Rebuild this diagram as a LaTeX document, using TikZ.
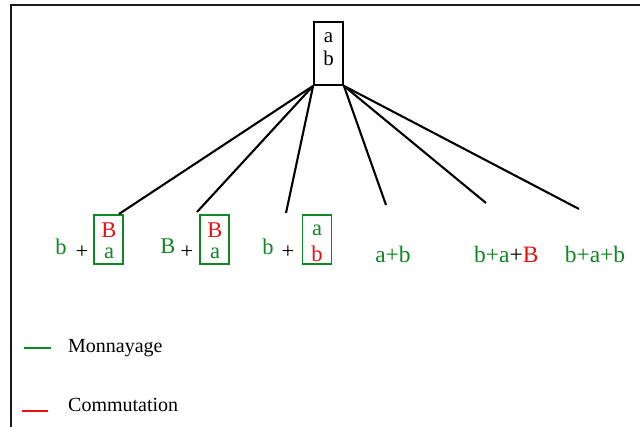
\documentclass[tikz,border=0pt]{standalone}
\usepackage{fontspec}
\setmainfont{Liberation Serif}
\definecolor{mgreen}{RGB}{16,134,36}
\definecolor{mred}{RGB}{232,16,16}
\begin{document}
\begin{tikzpicture}[x=1pt,y=-1pt,
  conn/.style={line width=2.1pt,black},
  gbox/.style={draw=mgreen,line width=1.5pt,minimum width=29pt,minimum height=49pt,inner sep=0pt},
  txt/.style={inner sep=0pt,anchor=base,font=\fontsize{22.5}{26}\selectfont},
  rtxt/.style={inner sep=0pt,anchor=base,font=\fontsize{23.5}{27}\selectfont},
  leg/.style={inner sep=0pt,anchor=base west,font=\fontsize{20}{24}\selectfont},
  frame/.style={line width=2pt,black!90}]
\useasboundingbox (0,0) rectangle (640,427);
% frame
\draw[frame] (640,5) -- (11,5) -- (11,427);
% root
\node[draw,line width=1.8pt,minimum width=29pt,minimum height=63pt,inner sep=0pt] (root) at (328.5,53.5) {};
\node[txt,font=\fontsize{21}{24}\selectfont] (ra) at (328.5,43) {a};
\node[txt,font=\fontsize{21}{24}\selectfont] (rb) at (328.5,66) {b};
% green boxes
\node[gbox] (g1) at (108.5,239.5) {};
\node[gbox] (g2) at (214.5,239.5) {};
\node[gbox] (g3) at (317,239.5) {};
% box contents
\node[txt,text=mred] (g1B) at (109,237.5) {B};
\node[txt,text=mgreen] (g1a) at (109,258.5) {a};
\node[txt,text=mred] (g2B) at (215,237.5) {B};
\node[txt,text=mgreen] (g2a) at (215,258.5) {a};
\node[txt,text=mgreen] (g3a) at (317,236) {a};
\node[txt,text=mred] (g3b) at (317,262) {b};
% outside texts
\node[txt,text=mgreen] (t1b) at (61,255) {b};
\node[txt] (t1p) at (82,259) {+};
\node[txt,text=mgreen] (t2B) at (168,254) {B};
\node[txt] (t2p) at (187,259) {+};
\node[txt,text=mgreen] (t3b) at (268,255) {b};
\node[txt] (t3p) at (288,259) {+};
\node[rtxt,text=mgreen] (t4) at (393,263) {a+b};
\node[rtxt,anchor=base west] (t5) at (474,263) {\textcolor{mgreen}{b+a}+\textcolor{mred}{B}};
\node[rtxt,text=mgreen] (t6) at (595,263) {b+a+b};
% connector ends
\coordinate (e1) at (119,214);
\coordinate (e2) at (197,212);
\coordinate (e3) at (286,213);
\coordinate (e4) at (386,205);
\coordinate (e5) at (486,203);
\coordinate (e6) at (579,209);
\draw[conn] (root.south west) -- (e1);
\draw[conn] (root.south west) -- (e2);
\draw[conn] (root.south west) -- (e3);
\draw[conn] (root.south east) -- (e4);
\draw[conn] (root.south east) -- (e5);
\draw[conn] (root.south east) -- (e6);
% legend
\coordinate (lg1) at (24,348);
\coordinate (lg2) at (51,348);
\draw[mgreen,line width=1.6pt] (lg1) -- (lg2);
\node[leg] (lmon) at (68,353) {Monnayage};
\coordinate (lr1) at (22,411);
\coordinate (lr2) at (48,411);
\draw[mred,line width=1.6pt] (lr1) -- (lr2);
\node[leg] (lcom) at (68,412) {Commutation};
\end{tikzpicture}
\end{document}
